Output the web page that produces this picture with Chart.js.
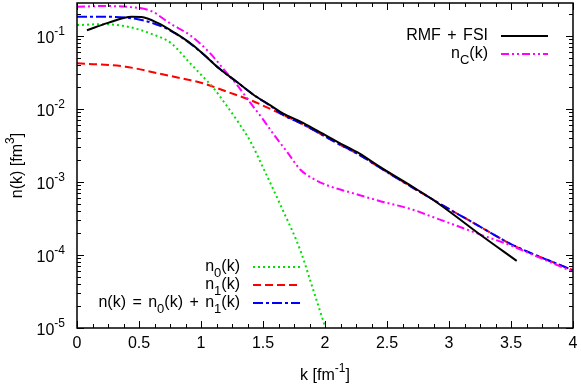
<!DOCTYPE html>
<html>
<head>
<meta charset="utf-8">
<script src="https://cdn.jsdelivr.net/npm/chart.js@4.4.0/dist/chart.umd.min.js"></script>
<style>
html, body { margin: 0; padding: 0; background: #fff; }
</style>
</head>
<body>
<canvas id="nkChart" width="581" height="387"></canvas>
<script>
/* data: k in fm^-1, n(k) in fm^3 */
const kFSI = [0.08, 0.25, 0.44, 0.52, 0.65, 0.79, 0.93, 1.02, 1.15, 1.29, 1.42, 1.56, 1.66, 1.81, 1.93, 2.1, 2.28, 2.44, 2.71, 2.85, 3.0, 3.25, 3.546];
const nFSI = [0.120, 0.151, 0.184, 0.182, 0.151, 0.110, 0.0759, 0.0562, 0.0355, 0.0234, 0.0158, 0.0112, 0.00871, 0.00661, 0.00513, 0.00355, 0.00245, 0.00162, 8.51e-4, 6.03e-4, 3.98e-4, 1.91e-4, 8.3e-5];

const kC = [0, 0.2, 0.4, 0.6, 0.75, 0.91, 1.07, 1.19, 1.29, 1.4, 1.49, 1.6, 1.7, 1.8, 1.9, 2.04, 2.2, 2.44, 2.71, 2.87, 3.0, 3.27, 3.5, 3.68, 4.0];
const nC = [0.251, 0.257, 0.251, 0.219, 0.149, 0.103, 0.0589, 0.0339, 0.0214, 0.0120, 0.00759, 0.00417, 0.00251, 0.00148, 0.00112, 8.71e-4, 7.24e-4, 5.50e-4, 4.17e-4, 3.31e-4, 2.75e-4, 1.86e-4, 1.35e-4, 1.0e-4, 5.89e-5];

const k0 = [0, 0.2, 0.4, 0.6, 0.76, 0.91, 1.0, 1.1, 1.2, 1.3, 1.4, 1.5, 1.65, 1.8, 1.9, 2.0];
const n0 = [0.141, 0.145, 0.135, 0.107, 0.0794, 0.0427, 0.0295, 0.0195, 0.0115, 0.00661, 0.00355, 0.00158, 4.47e-4, 1.17e-4, 3.55e-5, 1.05e-5];

const k1 = [0, 0.39, 0.65, 0.87, 1.0, 1.22, 1.4, 1.56, 1.66, 1.81, 1.93, 2.1, 2.28, 2.44, 2.71, 3.0, 3.25, 3.5, 4.0];
const n1 = [0.0423, 0.0380, 0.0309, 0.0257, 0.0229, 0.0170, 0.0132, 0.0100, 0.00832, 0.00631, 0.00490, 0.00339, 0.00234, 0.00158, 8.32e-4, 4.27e-4, 2.45e-4, 1.41e-4, 6.17e-5];

const kTot = [0, 0.2, 0.4, 0.52, 0.71, 0.87, 1.02, 1.15, 1.29, 1.42, 1.56, 1.66, 1.81, 1.93, 2.1, 2.28, 2.44, 2.71, 3.0, 3.25, 3.5, 4.0];
const nTot = [0.184, 0.184, 0.178, 0.166, 0.129, 0.0891, 0.0562, 0.0355, 0.0234, 0.0158, 0.0110, 0.00832, 0.00631, 0.00490, 0.00339, 0.00234, 0.00158, 8.32e-4, 4.27e-4, 2.45e-4, 1.41e-4, 6.17e-5];

const xTickVals = [0, 0.5, 1, 1.5, 2, 2.5, 3, 3.5, 4];
const xTickLabels = ['0', '0.5', '1', '1.5', '2', '2.5', '3', '3.5', '4'];
const yTickVals = [1e-5, 1e-4, 1e-3, 1e-2, 1e-1];
const yTickExps = ['-5', '-4', '-3', '-2', '-1'];

const FONT = '"Liberation Sans", Arial, sans-serif';

function pts(ks, ns) {
    return ks.map((k, i) => ({ x: k, y: ns[i] }))
}

// draw text made of parts: {t, s} with s = 1 superscript, -1 subscript
function richText(ctx, parts, x, y, align, small, ws) {
    small = small || 12;
    ctx.wordSpacing = ws || '0px';
    const widths = parts.map(p => {
        ctx.font = (p.s ? small + 'px ' : '16px ') + FONT;
        return ctx.measureText(p.t).width;
    });
    const total = widths.reduce((a, b) => a + b, 0);
    let cx = align === 'right' ? x - total : align === 'center' ? x - total / 2 : x;
    ctx.textAlign = 'left';
    ctx.textBaseline = 'middle';
    parts.forEach((p, i) => {
        ctx.font = (p.s ? small + 'px ' : '16px ') + FONT;
        const dy = p.s === 1 ? -7 : p.s === -1 ? 6 : 0;
        ctx.fillText(p.t, cx, y + dy);
        cx += widths[i];
    });
    ctx.wordSpacing = '0px';
}

const frame = {
    id: 'frame',
    afterDraw(chart) {
        const { ctx, chartArea: a, scales: { x, y } } = chart;
        ctx.save();
        ctx.fillStyle = '#000';
        ctx.strokeStyle = '#000';

        // ticks, inward on all four sides
        ctx.lineWidth = 1;
        ctx.beginPath();
        for (let i = 0; i <= 32; i++) {
            const px = Math.round(x.getPixelForValue(i * 0.125)) + 0.5;
            const len = i % 4 === 0 ? 7 : 4;
            ctx.moveTo(px, a.bottom); ctx.lineTo(px, a.bottom - len);
            ctx.moveTo(px, a.top); ctx.lineTo(px, a.top + len);
        }
        for (let e = -5; e <= -1; e++) {
            for (let m = 1; m <= 9; m++) {
                const v = m * Math.pow(10, e);
                if (v > y.max) continue;
                const py = Math.round(y.getPixelForValue(v)) + 0.5;
                const len = m === 1 ? 7 : 4;
                ctx.moveTo(a.left, py); ctx.lineTo(a.left + len, py);
                ctx.moveTo(a.right, py); ctx.lineTo(a.right - len, py);
            }
        }
        ctx.stroke();

        ctx.lineWidth = 1.5;
        ctx.strokeRect(a.left, a.top, a.right - a.left, a.bottom - a.top);

        // tick labels
        ctx.font = '16px ' + FONT;
        ctx.textAlign = 'center';
        ctx.textBaseline = 'middle';
        xTickVals.forEach((v, i) => {
            ctx.fillText(xTickLabels[i], x.getPixelForValue(v), a.bottom + 16);
        });
        yTickVals.forEach((v, i) => {
            richText(ctx, [{ t: '10', s: 0 }, { t: yTickExps[i], s: 1 }], a.left - 12, y.getPixelForValue(v) + 3, 'right');
        });

        // axis titles
        richText(ctx, [{ t: 'k [fm', s: 0 }, { t: '-1', s: 1 }, { t: ']', s: 0 }], (a.left + a.right) / 2, 376, 'center');
        ctx.save();
        ctx.translate(18, (a.top + a.bottom) / 2);
        ctx.rotate(-Math.PI / 2);
        richText(ctx, [{ t: 'n(k) [fm', s: 0 }, { t: '3', s: 1 }, { t: ']', s: 0 }], 0, 0, 'center');
        ctx.restore();

        // legends
        const ds = chart.data.datasets;
        const entries = [
            { d: 0, x: 488, y: 36, parts: [{ t: 'RMF + FSI', s: 0 }] },
            { d: 1, x: 488, y: 54, parts: [{ t: 'n', s: 0 }, { t: 'C', s: -1 }, { t: '(k)', s: 0 }] },
            { d: 2, x: 240, y: 267, parts: [{ t: 'n', s: 0 }, { t: '0', s: -1 }, { t: '(k)', s: 0 }] },
            { d: 4, x: 240, y: 285, parts: [{ t: 'n', s: 0 }, { t: '1', s: -1 }, { t: '(k)', s: 0 }] },
            { d: 3, x: 240, y: 303, parts: [{ t: 'n(k) = n', s: 0 }, { t: '0', s: -1 }, { t: '(k) + n', s: 0 }, { t: '1', s: -1 }, { t: '(k)', s: 0 }] }
        ];
        entries.forEach(en => {
            richText(ctx, en.parts, en.x, en.y, 'right', 13, '2px');
            const d = ds[en.d];
            ctx.save();
            ctx.strokeStyle = d.borderColor;
            ctx.lineWidth = d.borderWidth;
            ctx.setLineDash(d.borderDash || []);
            ctx.beginPath();
            ctx.moveTo(en.x + 13, en.y);
            ctx.lineTo(en.x + 60, en.y);
            ctx.stroke();
            ctx.restore();
        });
        ctx.restore();
    }
}

const nkChart = new Chart(document.getElementById('nkChart').getContext('2d'), {
    type: 'line',
    data: {
        datasets: [{
                label: 'RMF + FSI',
                data: pts(kFSI, nFSI),
                borderColor: '#000000',
                borderWidth: 2
            },
            {
                label: 'nC(k)',
                data: pts(kC, nC),
                borderColor: '#ff00ff',
                borderWidth: 2,
                borderDash: [8, 3, 2, 3, 2, 3]
            },
            {
                label: 'n0(k)',
                data: pts(k0, n0),
                borderColor: '#00e000',
                borderWidth: 2,
                borderDash: [2, 3]
            },
            {
                label: 'n(k) = n0(k) + n1(k)',
                data: pts(kTot, nTot),
                borderColor: '#0000ff',
                borderWidth: 2,
                borderDash: [10, 3, 3, 3]
            },
            {
                label: 'n1(k)',
                data: pts(k1, n1),
                borderColor: '#ff0000',
                borderWidth: 2,
                borderDash: [8, 4]
            }
        ]
    },
    options: {
        responsive: false,
        animation: false,
        layout: { padding: { left: 77, right: 8, top: 3, bottom: 59 } },
        elements: {
            point: { radius: 0 },
            line: { cubicInterpolationMode: 'monotone', fill: false }
        },
        scales: {
            x: { type: 'linear', min: 0, max: 4, display: false },
            y: { type: 'logarithmic', min: 1e-5, max: 0.283, display: false }
        },
        plugins: {
            legend: { display: false },
            tooltip: { enabled: false }
        }
    },
    plugins: [frame]
})
</script>
</body>
</html>
